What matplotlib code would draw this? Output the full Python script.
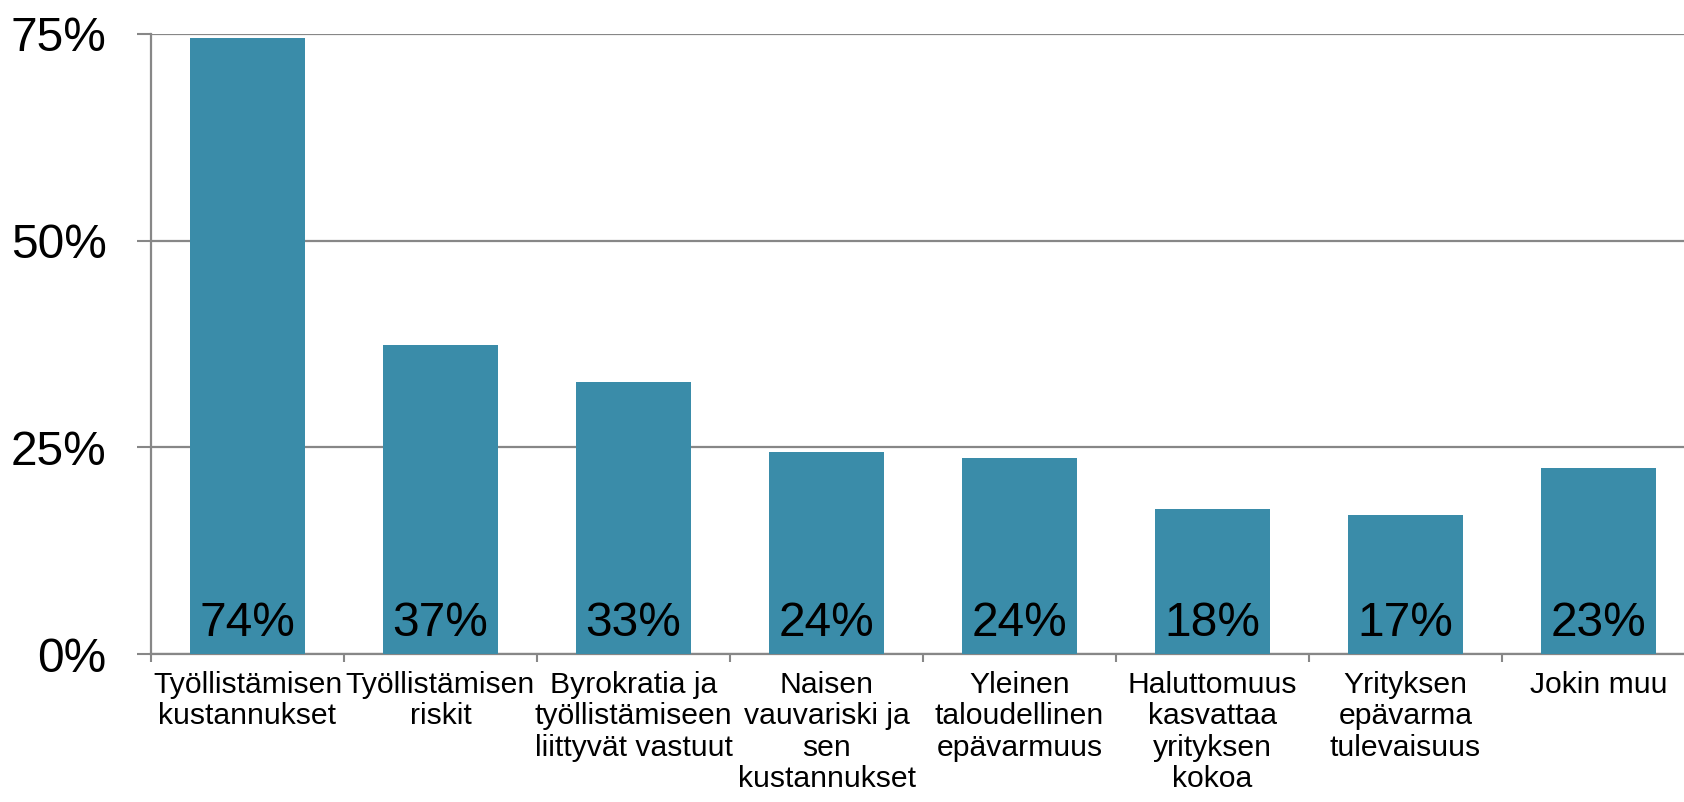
import numpy as np
import matplotlib.pyplot as plt

plt.rcParams['font.family'] = ['Liberation Sans', 'DejaVu Sans']

categories = ["Työllistämisen\nkustannukset",
              "Työllistämisen\nriskit",
              "Byrokratia ja\ntyöllistämiseen\nliittyvät vastuut",
              "Naisen\nvauvariski ja\nsen\nkustannukset",
              "Yleinen\ntaloudellinen\nepävarmuus",
              "Haluttomuus\nkasvattaa\nyrityksen\nkokoa",
              "Yrityksen\nepävarma\ntulevaisuus",
              "Jokin muu"]
values = [74.5, 37.4, 32.9, 24.4, 23.7, 17.5, 16.8, 22.5]
value_labels = ["74%", "37%", "33%", "24%", "24%", "18%", "17%", "23%"]
yticks = [0, 25, 50, 75]
ytick_labels = ["0%", "25%", "50%", "75%"]

bar_color = '#3a8ca9'
grid_color = '#878787'

fig = plt.figure(figsize=(16.84, 8.02), dpi=100)
ax = fig.add_axes([151/1684, 148/802, 1544/1684, 620/802])

x = np.arange(len(categories))
ax.bar(x, values, width=0.6, color=bar_color, zorder=3)

for xi, lab in zip(x, value_labels):
    ax.annotate(lab, (xi, 0), xytext=(0, 13), textcoords='offset points',
                ha='center', va='baseline', fontsize=34.5, color='black', zorder=4)

ax.set_xlim(-0.5, len(categories) - 0.5)
ax.set_ylim(0, 75)

ax.set_yticks(yticks)
ax.set_yticklabels(ytick_labels, fontsize=34.5)
ax.tick_params(axis='y', length=10, width=1.5, color=grid_color, pad=22)
ax.yaxis.grid(True, color=grid_color, linewidth=1.6, zorder=0)

# boundaries get the tick marks, centres get the labels
ax.set_xticks(np.arange(len(categories) + 1) - 0.5)
ax.set_xticklabels([])
ax.tick_params(axis='x', which='major', length=6, width=1.5, color=grid_color)
ax.set_xticks(x, minor=True)
ax.set_xticklabels(categories, minor=True, fontsize=21.7, linespacing=1.16)
ax.tick_params(axis='x', which='minor', length=0, pad=12)

for side in ['top', 'right']:
    ax.spines[side].set_visible(False)
for side in ['left', 'bottom']:
    ax.spines[side].set_color(grid_color)
    ax.spines[side].set_linewidth(1.6)

fig.savefig('out.png', dpi=100)
